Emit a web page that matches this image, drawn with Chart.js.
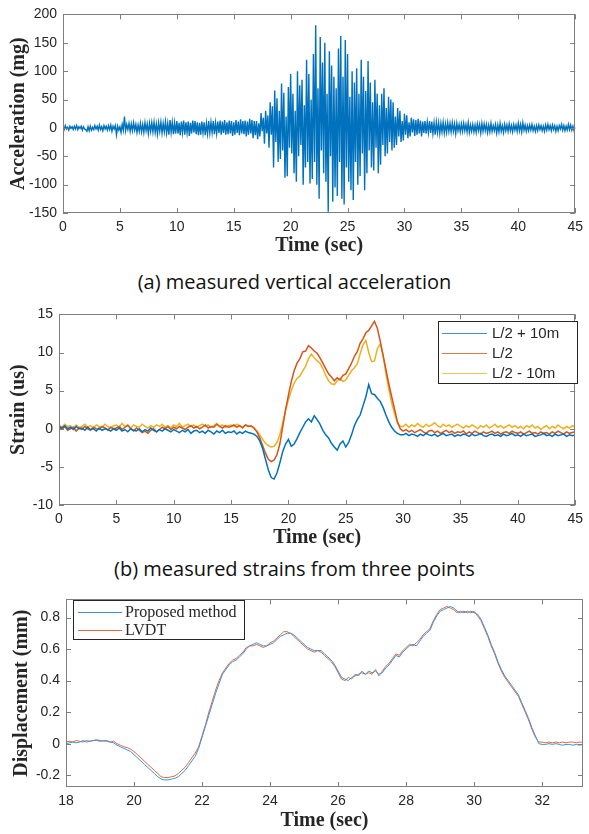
<!DOCTYPE html>
<html><head><meta charset="utf-8">
<script src="https://cdn.jsdelivr.net/npm/chart.js@4.4.1/dist/chart.umd.min.js"></script>
<style>
html,body{margin:0;padding:0;background:#fff;}
body{width:589px;height:834px;position:relative;overflow:hidden;}
canvas{position:absolute;left:0;}
.cap{position:absolute;left:0;width:589px;text-align:center;font-family:"Open Sans",sans-serif;font-size:20px;line-height:26px;color:#111;}
</style></head><body>
<canvas id="c1" width="589" height="258" style="top:0"></canvas>
<div class="cap" style="top:269px">(a) measured vertical acceleration</div>
<canvas id="c2" width="589" height="255" style="top:300px"></canvas>
<div class="cap" style="top:556px">(b) measured strains from three points</div>
<canvas id="c3" width="589" height="249" style="top:585px"></canvas>
<script>
// ---------- data ----------
const accT0 = 0, accDt = 0.1;
const accValues = [
2,-3,4,-2,1,-4,3,-1,2,-3,
3,-2,4,-3,2,-1,3,-4,2,-2,
-3,-6,2,-5,3,-4,1,-3,4,-2,
3,-4,5,-3,2,-5,4,-2,3,-4,
4,-3,5,-6,3,-2,4,-12,3,-4,
2,-8,6,-4,20,-5,6,-3,8,-6,
7,-5,9,-4,6,-8,5,-6,8,-7,
6,-8,9,-5,7,-10,8,-6,9,-7,
10,-8,7,-11,9,-6,10,-9,8,-7,
11,-9,8,-12,14,-8,10,-11,9,-10,
12,-10,9,-13,11,-8,13,-12,10,-9,
11,-14,9,-10,13,-8,12,-11,10,-13,
9,-12,11,-9,10,-13,8,-10,12,-9,
10,-8,12,-11,9,-10,11,-9,13,-12,
11,-9,14,-12,10,-11,13,-10,12,-14,
10,-12,14,-9,11,-13,15,-10,12,-11,
13,-15,11,-12,16,-10,14,-18,12,-13,
12,-20,8,-15,26,-6,18,-28,30,-10,
22,-35,45,-12,38,-70,66,-25,52,-60,
30,-55,78,-40,62,-88,20,-85,72,-35,
95,-45,60,-80,30,-95,100,-50,75,-30,
85,-100,40,-70,120,-60,95,-98,50,-90,
130,-60,181,-100,70,-125,160,-40,115,-80,
150,-95,60,-148,135,-50,110,-130,90,-105,
70,-120,140,-60,162,-125,90,-135,155,-70,
130,-95,55,-110,100,-127,80,-60,105,-100,
60,-85,120,-45,90,-110,65,-80,118,-40,
80,-70,45,-75,85,-35,60,-80,40,-65,
60,-30,70,-50,35,-45,55,-25,50,-40,
45,-35,20,-30,35,-15,30,-25,12,-22,
25,-12,22,-18,10,-15,18,-8,15,-14,
14,-12,16,-10,13,-15,11,-9,12,-10,
10,-8,12,-9,11,-10,9,-12,10,-8,
9,-10,8,-7,10,-9,7,-8,9,-6,
8,-7,9,-6,7,-10,8,-5,6,-7,
7,-6,8,-5,6,-7,9,-8,5,-6,
6,-7,5,-8,7,-5,6,-9,8,-6,
7,-5,6,-8,5,-7,8,-6,4,-5,
6,-9,5,-7,8,-6,4,-8,6,-5,
5,-6,7,-5,4,-7,6,-4,5,-6,
8,-5,6,-7,9,-4,5,-6,4,-5,
5,-4,6,-5,3,-6,4,-5,5,-3,
4,-5,3,-6,5,-4,6,-3,4,-5,
5,-3,4,-6,3,-5,4,-2,6,-4,
4,-5,3,-4,6,-3,5,-4,3,-5,
2];
const accXTicks = [0,5,10,15,20,25,30,35,40,45];
const accYTicks = [-150,-100,-50,0,50,100,150,200];

const strainT0 = 0, strainDt = 0.25;
const strainLabels = ['L/2 + 10m','L/2','L/2 - 10m'];
const strainPlus10 = [
0.3,0.1,0.4,0.0,0.2,-0.1,0.3,0.0,0.1,-0.2,0.2,-0.1,0.0,-0.3,0.1,-0.2,0.0,-0.1,-0.3,0.0,
-0.2,0.1,-0.3,-0.1,-0.4,0.0,-0.2,-0.3,0.0,-0.4,-0.1,-0.3,0.1,-0.2,-0.4,-0.1,-0.3,0.0,-0.2,-0.4,
-0.1,-0.3,-0.5,-0.2,-0.4,-0.1,-0.6,-0.3,-0.2,-0.5,-0.3,-0.6,-0.2,-0.4,-0.7,-0.3,-0.5,-0.2,-0.6,-0.4,
-0.5,-0.3,-0.7,-0.4,-0.6,-0.3,-0.5,-0.6,
-0.7,-1.0,-1.6,-2.6,-4.0,-5.4,-6.4,-6.6,-5.8,-4.5,-3.0,-2.0,
-1.4,-2.3,-2.0,-1.3,-0.5,0.2,0.9,1.3,0.9,1.7,1.2,0.6,-0.2,-0.8,-1.2,-1.9,-2.4,-2.8,-2.0,-1.6,
-2.4,-1.8,-0.8,0.4,1.2,1.8,3.0,4.2,5.8,4.6,4.5,4.0,3.6,2.8,1.8,0.9,0.2,-0.3,-0.6,-0.8,
-0.8,-0.6,-0.9,-0.7,-0.8,-1.0,-0.7,-0.9,-0.6,-0.8,-0.9,-0.7,-1.0,-0.8,-0.6,-0.9,-0.8,-0.7,-1.0,-0.8,
-0.9,-0.7,-0.8,-1.0,-0.7,-0.9,-0.8,-0.6,-0.9,-1.0,-0.8,-0.7,-0.9,-0.8,-1.0,-0.7,-0.9,-0.8,-0.6,-0.9,
-0.8,-1.0,-0.7,-0.9,-0.8,-0.7,-1.0,-0.9,-0.8,-0.6,-0.9,-0.8,-1.0,-0.7,-0.9,-0.8,-0.7,-1.0,-0.8,-0.9,-0.8];
const strainMid = [
0.2,-0.1,0.3,-0.2,0.0,0.2,-0.3,0.1,-0.1,0.3,0.0,-0.2,0.2,0.0,-0.1,0.3,0.1,-0.2,0.2,0.0,
0.1,0.3,-0.1,0.2,0.5,0.0,-0.3,0.1,-0.2,-0.5,-0.3,-0.6,-0.2,0.0,-0.4,-0.1,0.2,0.0,0.3,-0.1,
0.2,0.0,0.3,0.1,-0.1,0.2,0.4,0.1,0.3,0.0,0.2,0.5,0.1,0.3,0.2,0.6,0.3,0.1,0.4,0.2,
0.3,0.5,0.2,0.4,0.1,0.5,0.3,0.4,
0.1,-0.4,-1.2,-2.2,-3.2,-4.0,-4.3,-4.1,-3.4,-2.0,0.2,2.5,
4.4,6.2,7.6,8.6,9.2,10.1,10.2,10.9,10.6,10.2,9.9,9.3,8.6,7.9,7.2,6.8,6.3,6.7,6.4,7.0,
7.2,7.9,8.6,9.5,10.1,11.2,11.8,12.6,12.9,13.5,14.1,13.2,11.5,9.6,7.8,5.9,4.2,2.6,0.9,0.0,
-0.3,-0.1,-0.4,-0.2,-0.5,-0.3,-0.1,-0.4,-0.6,-0.3,-0.2,-0.5,-0.3,-0.6,-0.4,-0.2,-0.5,-0.3,-0.6,-0.4,
-0.5,-0.3,-0.7,-0.4,-0.6,-0.3,-0.5,-0.7,-0.4,-0.6,-0.5,-0.3,-0.6,-0.4,-0.7,-0.5,-0.4,-0.6,-0.3,-0.5,
-0.6,-0.4,-0.7,-0.5,-0.3,-0.6,-0.5,-0.7,-0.4,-0.6,-0.5,-0.7,-0.4,-0.6,-0.3,-0.5,-0.7,-0.4,-0.6,-0.5,-0.4];
const strainMinus10 = [
0.5,0.2,0.6,0.3,0.4,0.1,0.5,0.2,0.3,0.6,0.2,0.4,0.1,0.5,0.3,0.2,0.6,0.3,0.1,0.4,
0.5,0.2,0.7,0.3,0.4,0.1,0.5,0.3,0.2,0.6,0.3,0.1,0.4,0.2,0.5,0.3,0.6,0.2,0.4,0.1,
0.5,0.3,0.7,0.2,0.4,0.6,0.3,0.5,0.2,0.4,0.6,0.3,0.5,0.2,0.4,0.7,0.3,0.5,0.2,0.4,
0.5,0.3,0.6,0.4,0.2,0.5,0.4,0.3,
0.1,-0.3,-0.8,-1.4,-1.9,-2.2,-2.4,-2.3,-1.8,-0.8,0.8,2.4,
3.8,5.0,6.0,6.6,6.9,7.6,8.2,9.2,9.8,9.3,8.9,8.6,7.9,7.0,6.3,5.9,5.8,6.3,6.6,6.2,
6.4,7.0,7.6,8.0,8.5,9.8,11.0,11.6,10.0,8.8,8.9,10.5,11.1,9.8,7.2,5.2,3.4,2.0,0.8,0.3,
0.3,0.6,0.2,0.5,0.3,0.7,0.4,0.2,0.6,0.3,0.5,0.8,0.4,0.2,0.6,0.3,0.5,0.2,0.4,0.6,
0.3,0.1,0.4,0.2,0.5,0.3,0.0,0.4,0.2,0.5,0.1,0.3,0.6,0.2,0.4,0.1,0.3,0.5,0.2,0.4,
0.1,0.3,0.0,0.4,0.2,0.5,0.1,0.3,-0.1,0.2,0.4,0.0,0.3,0.1,0.5,0.2,0.0,0.3,0.1,0.4,0.2];
const strainYTicks = [-10,-5,0,5,10,15];

const dispT0 = 18, dispDt = 0.1;
const dispLabels = ['Proposed method','LVDT'];
const dispProposed = [
0.00,0.005,0.01,0.005,0.01,0.02,0.01,0.015,0.02,0.025,
0.02,0.015,0.02,0.01,0.005,-0.01,-0.02,-0.03,-0.04,-0.05,
-0.07,-0.09,-0.11,-0.13,-0.15,-0.17,-0.19,-0.21,-0.225,-0.23,
-0.23,-0.225,-0.22,-0.21,-0.19,-0.17,-0.14,-0.11,-0.08,-0.03,
0.04,0.11,0.18,0.25,0.32,0.38,0.44,0.47,0.50,0.52,
0.53,0.55,0.57,0.60,0.62,0.63,0.64,0.63,0.62,0.62,
0.63,0.64,0.66,0.68,0.69,0.70,0.70,0.69,0.67,0.65,
0.63,0.61,0.60,0.59,0.59,0.59,0.57,0.55,0.53,0.50,
0.46,0.42,0.41,0.40,0.42,0.43,0.44,0.45,0.44,0.46,
0.45,0.46,0.44,0.45,0.48,0.50,0.53,0.56,0.55,0.58,
0.60,0.62,0.63,0.62,0.65,0.68,0.70,0.72,0.77,0.81,
0.84,0.85,0.86,0.87,0.86,0.84,0.83,0.84,0.83,0.84,
0.83,0.82,0.79,0.74,0.69,0.63,0.58,0.52,0.47,0.43,
0.40,0.37,0.34,0.31,0.26,0.21,0.16,0.10,0.05,0.00,
-0.005,-0.005,0.00,-0.005,0.00,-0.005,-0.01,-0.005,-0.005,-0.01,
-0.005,-0.01,-0.005];
const dispLVDT = [
0.01,0.015,0.01,0.02,0.015,0.01,0.02,0.015,0.02,0.02,
0.015,0.02,0.015,0.01,0.015,0.00,-0.01,-0.02,-0.025,-0.035,
-0.05,-0.07,-0.09,-0.11,-0.13,-0.15,-0.17,-0.19,-0.21,-0.215,
-0.215,-0.21,-0.205,-0.19,-0.17,-0.15,-0.12,-0.09,-0.06,-0.02,
0.05,0.12,0.20,0.27,0.34,0.40,0.45,0.48,0.51,0.53,
0.54,0.56,0.58,0.61,0.62,0.62,0.63,0.62,0.61,0.62,
0.64,0.65,0.67,0.69,0.71,0.71,0.70,0.68,0.66,0.64,
0.62,0.60,0.59,0.58,0.59,0.58,0.56,0.54,0.52,0.49,
0.45,0.41,0.40,0.42,0.41,0.44,0.43,0.46,0.44,0.45,
0.44,0.47,0.43,0.46,0.49,0.51,0.54,0.57,0.56,0.59,
0.61,0.63,0.62,0.64,0.66,0.69,0.71,0.73,0.78,0.82,
0.85,0.86,0.87,0.86,0.85,0.83,0.84,0.83,0.84,0.83,
0.84,0.81,0.78,0.73,0.68,0.62,0.57,0.51,0.46,0.42,
0.39,0.36,0.33,0.30,0.25,0.20,0.15,0.09,0.04,0.01,
0.01,0.005,0.01,0.005,0.01,0.005,0.01,0.005,0.01,0.01,
0.005,0.01,0.01];
const dispXTicks = [18,20,22,24,26,28,30,32];
const dispYTicks = [-0.2,0,0.2,0.4,0.6,0.8];

// ---------- helpers ----------
const pts = (t0, dt, arr) => arr.map((v, i) => ({x: +(t0 + i * dt).toFixed(3), y: v}));
const AXIS = '#7f7f7f', TXT = '#262626';
const tickFont = {family: '"Liberation Sans", Arial, sans-serif', size: 14};
const titleFont = {family: '"Liberation Serif", "Times New Roman", serif', size: 20, weight: 'bold'};

const framePlugin = {
  id: 'frame',
  afterDatasetsDraw(chart) {
    const {ctx, chartArea: a, scales: {x, y}} = chart;
    ctx.save();
    ctx.strokeStyle = AXIS; ctx.lineWidth = 1;
    ctx.beginPath();
    x.ticks.forEach(t => {
      const p = Math.round(x.getPixelForValue(t.value)) + 0.5;
      ctx.moveTo(p, a.bottom); ctx.lineTo(p, a.bottom - 5);
      ctx.moveTo(p, a.top); ctx.lineTo(p, a.top + 5);
    });
    y.ticks.forEach(t => {
      const p = Math.round(y.getPixelForValue(t.value)) + 0.5;
      ctx.moveTo(a.left, p); ctx.lineTo(a.left + 5, p);
      ctx.moveTo(a.right, p); ctx.lineTo(a.right - 5, p);
    });
    ctx.stroke();
    ctx.strokeRect(Math.round(a.left) + 0.5, Math.round(a.top) + 0.5,
      Math.round(a.right - a.left) - 1, Math.round(a.bottom - a.top) - 1);
    ctx.restore();
  }
};

const legendPlugin = {
  id: 'boxLegend',
  afterDraw(chart, args, o) {
    if (!o || !o.box) return;
    const ctx = chart.ctx;
    ctx.save();
    ctx.fillStyle = '#fff';
    ctx.fillRect(o.box[0], o.box[1], o.box[2], o.box[3]);
    ctx.strokeStyle = o.border; ctx.lineWidth = 1;
    ctx.strokeRect(o.box[0] + 0.5, o.box[1] + 0.5, o.box[2] - 1, o.box[3] - 1);
    ctx.font = o.font; ctx.fillStyle = TXT; ctx.textBaseline = 'middle'; ctx.textAlign = 'left';
    chart.data.datasets.forEach((ds, i) => {
      const yy = o.rowY + i * o.rowH + 0.5;
      ctx.strokeStyle = o.lineColors[i]; ctx.lineWidth = 1;
      ctx.beginPath(); ctx.moveTo(o.lineX[0], yy); ctx.lineTo(o.lineX[1], yy); ctx.stroke();
      ctx.fillText(ds.label, o.textX, yy);
    });
    ctx.restore();
  }
};

function makeChart(id, cfg) {
  const {L, T, R, B, H, W = 589} = cfg.box;
  return new Chart(document.getElementById(id), {
    type: 'line',
    data: {datasets: cfg.datasets},
    options: {
      responsive: false, animation: false, normalized: true,
      layout: {padding: {left: 0, top: T, right: W - R, bottom: 0}},
      elements: {point: {radius: 0}, line: {tension: 0}},
      plugins: {legend: {display: false}, tooltip: {enabled: false}, boxLegend: cfg.legend || {}},
      scales: {
        x: {
          type: 'linear', min: cfg.x.min, max: cfg.x.max,
          afterBuildTicks: s => { s.ticks = cfg.x.ticks.map(v => ({value: v})); },
          afterFit: s => { s.height = H - B; },
          grid: {display: false, drawTicks: false},
          border: {display: false},
          ticks: {font: tickFont, color: TXT, padding: cfg.x.pad, maxRotation: 0, autoSkip: false,
                  callback: v => String(v)},
          title: {display: true, text: 'Time (sec)', font: titleFont, color: TXT,
                  padding: {top: 0, bottom: cfg.x.titlePad}}
        },
        y: {
          type: 'linear', min: cfg.y.min, max: cfg.y.max,
          afterBuildTicks: s => { s.ticks = cfg.y.ticks.map(v => ({value: v})); },
          afterFit: s => { s.width = L; },
          grid: {display: false, drawTicks: false},
          border: {display: false},
          ticks: {font: tickFont, color: TXT, padding: cfg.y.pad, autoSkip: false,
                  callback: v => String(+v.toFixed(2))},
          title: {display: true, text: cfg.y.title, font: titleFont, color: TXT,
                  padding: {top: cfg.y.titlePad, bottom: 0}}
        }
      }
    },
    plugins: [framePlugin, legendPlugin]
  });
}

// (a) acceleration
makeChart('c1', {
  box: {L: 63, T: 13, R: 580, B: 213, H: 258},
  datasets: [{label: 'acc', data: pts(accT0, accDt, accValues), borderColor: '#0072BD', borderWidth: 1.4}],
  x: {min: 0, max: 45, ticks: accXTicks, pad: 6, titlePad: 0},
  y: {min: -150, max: 200, ticks: accYTicks, pad: 6, title: 'Acceleration (mg)', titlePad: 7}
});

// (b) strains
makeChart('c2', {
  box: {L: 59, T: 12, R: 582, B: 205, H: 255},
  datasets: [
    {label: strainLabels[0], data: pts(strainT0, strainDt, strainPlus10), borderColor: '#0072BD', borderWidth: 1.5},
    {label: strainLabels[1], data: pts(strainT0, strainDt, strainMid), borderColor: '#D95319', borderWidth: 1.5},
    {label: strainLabels[2], data: pts(strainT0, strainDt, strainMinus10), borderColor: '#EDB120', borderWidth: 1.5}
  ],
  x: {min: 0, max: 45, ticks: accXTicks, pad: 6, titlePad: 5},
  y: {min: -10, max: 15, ticks: strainYTicks, pad: 6, title: 'Strain (us)', titlePad: 7},
  legend: {box: [438, 21, 140, 63], border: '#262626', rowY: 33, rowH: 20, lineX: [442, 487], textX: 492,
           font: '15px "Liberation Sans", Arial, sans-serif', lineColors: ['#3d95d6', '#e0774a', '#f0c450']}
});

// (c) displacement
makeChart('c3', {
  box: {L: 66, T: 12, R: 583, B: 202, H: 249},
  datasets: [
    {label: dispLabels[0], data: pts(dispT0, dispDt, dispProposed), borderColor: '#3a94da', borderWidth: 1},
    {label: dispLabels[1], data: pts(dispT0, dispDt, dispLVDT), borderColor: '#e4663c', borderWidth: 1}
  ],
  x: {min: 18, max: 33.2, ticks: dispXTicks, pad: 6, titlePad: 1},
  y: {min: -0.275, max: 0.915, ticks: dispYTicks, pad: 6, title: 'Displacement (mm)', titlePad: 10},
  legend: {box: [73, 15, 172, 40], border: '#262626', rowY: 27, rowH: 18, lineX: [78, 122], textX: 125,
           font: '16px "Liberation Serif", "Times New Roman", serif', lineColors: ['#3a94da', '#e4663c']}
});
</script>
</body></html>
